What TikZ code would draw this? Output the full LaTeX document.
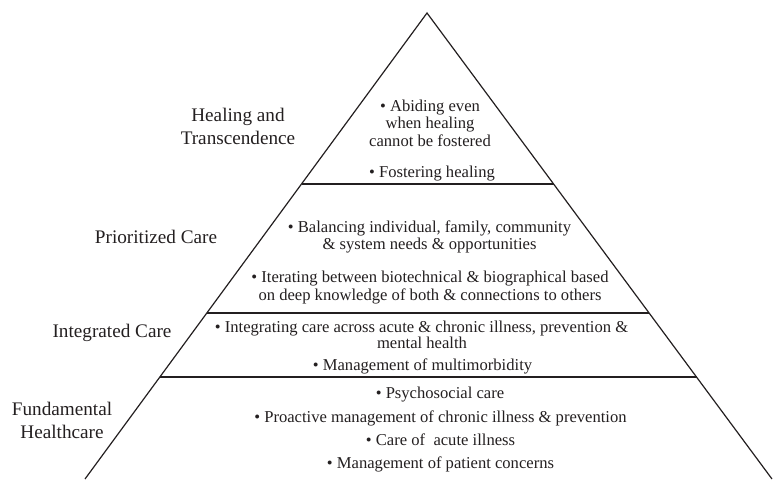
\documentclass[tikz,border=0pt]{standalone}
\usepackage{fontspec}
\setmainfont{Liberation Serif}
\definecolor{ink}{HTML}{231F20}
\begin{document}
\begin{tikzpicture}[x=1pt,y=-1pt,
  side/.style={draw=ink,line width=1.2pt},
  tier/.style={draw=ink,line width=1.7pt},
  itemtxt/.style={anchor=base,inner sep=0pt,text=ink,font=\fontsize{16.6}{18}\selectfont},
  lvl/.style={anchor=base,inner sep=0pt,text=ink,font=\fontsize{19.2}{22}\selectfont}]
\useasboundingbox (0,0) rectangle (773,479);
\begin{scope}
\clip (0,0) rectangle (773,479);
\coordinate (apex) at (427,13);
\coordinate (bl) at (85,479);
\coordinate (br) at (772,479);
\draw[side,line join=miter] (bl) -- (apex) -- (br);
\coordinate (l1) at (301.5,184); \coordinate (r1) at (553.6,184);
\coordinate (l2) at (206.8,313); \coordinate (r2) at (649.1,313);
\coordinate (l3) at (159.9,377); \coordinate (r3) at (696.5,377);
\draw[tier] (l1) -- (r1);
\draw[tier] (l2) -- (r2);
\draw[tier] (l3) -- (r3);
\end{scope}
% level labels
\node[lvl] (hl1) at (238,121) {Healing and};
\node[lvl] (hl2) at (238,144) {Transcendence};
\node[lvl] (pc) at (156,243) {Prioritized Care};
\node[lvl] (ic) at (112,337) {Integrated Care};
\node[lvl] (fh1) at (62,415) {Fundamental};
\node[lvl] (fh2) at (62,438) {Healthcare};
% top tier
\node[itemtxt] (t1a) at (430,111) {• Abiding even};
\node[itemtxt] (t1b) at (430,128) {when healing};
\node[itemtxt] (t1c) at (430,146) {cannot be fostered};
\node[itemtxt] (t2) at (432,177) {• Fostering healing};
% prioritized
\node[itemtxt] (p1a) at (429.5,232) {• Balancing individual, family, community};
\node[itemtxt] (p1b) at (429.5,249) {\& system needs \& opportunities};
\node[itemtxt] (p2a) at (430,282) {• Iterating between biotechnical \& biographical based};
\node[itemtxt] (p2b) at (430,300) {on deep knowledge of both \& connections to others};
% integrated
\node[itemtxt] (i1a) at (421.5,332) {• Integrating care across acute \& chronic illness, prevention \&};
\node[itemtxt] (i1b) at (422,348) {mental health};
\node[itemtxt] (i2) at (422.5,370) {• Management of multimorbidity};
% fundamental
\node[itemtxt] (f1) at (440,398) {• Psychosocial care};
\node[itemtxt] (f2) at (440.5,422) {• Proactive management of chronic illness \& prevention};
\node[itemtxt] (f3) at (440.5,445) {• Care of\ \ acute illness};
\node[itemtxt] (f4) at (440.5,468) {• Management of patient concerns};
\end{tikzpicture}
\end{document}
